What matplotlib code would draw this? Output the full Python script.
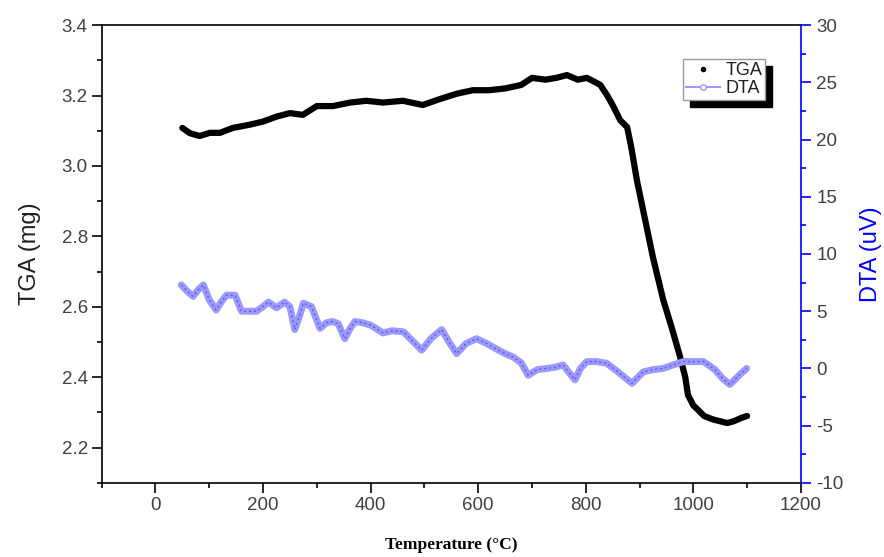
import matplotlib
matplotlib.use("Agg")
import matplotlib.pyplot as plt
from matplotlib.ticker import MultipleLocator, FormatStrFormatter
from matplotlib.lines import Line2D

# ==============================
# DATOS
# ==============================

tga_temp = [50, 64, 82, 101, 120, 144, 175, 200, 225, 250, 274, 300, 330, 362,
            392, 423, 460, 497, 529, 560, 590, 620, 650, 680, 700, 725, 745,
            765, 785, 802, 815, 827, 840, 851, 864, 877, 885, 895, 910, 925,
            944, 960, 975, 985, 990, 1000, 1007, 1020, 1037, 1050, 1063, 1075,
            1090, 1100]
tga_mg = [3.108, 3.093, 3.085, 3.094, 3.094, 3.108, 3.117, 3.126, 3.14, 3.15,
          3.145, 3.17, 3.17, 3.18, 3.185, 3.18, 3.185, 3.173, 3.19, 3.205,
          3.215, 3.215, 3.22, 3.23, 3.25, 3.245, 3.25, 3.258, 3.245, 3.25,
          3.24, 3.23, 3.20, 3.17, 3.13, 3.11, 3.05, 2.96, 2.85, 2.74, 2.62,
          2.54, 2.46, 2.40, 2.35, 2.32, 2.31, 2.29, 2.28, 2.275, 2.27, 2.275,
          2.285, 2.29]

dta_temp = [48, 58, 70, 80, 89, 100, 113, 122, 132, 148, 160, 175, 188, 200,
            210, 225, 240, 250, 259, 268, 275, 290, 306, 318, 330, 340, 352,
            362, 371, 385, 399, 410, 423, 440, 461, 478, 495, 512, 532, 546,
            560, 578, 597, 615, 634, 650, 665, 680, 693, 710, 727, 742, 758,
            768, 780, 790, 802, 820, 839, 860, 886, 907, 925, 944, 962, 982,
            1000, 1019, 1040, 1055, 1068, 1085, 1099]
dta_uv = [7.3, 6.8, 6.3, 6.9, 7.3, 6.0, 5.1, 5.8, 6.4, 6.4, 5.0, 5.0, 5.0, 5.4,
          5.8, 5.3, 5.8, 5.4, 3.4, 4.6, 5.7, 5.4, 3.5, 4.0, 4.1, 3.9, 2.6, 3.5,
          4.1, 4.0, 3.8, 3.5, 3.1, 3.3, 3.2, 2.4, 1.6, 2.6, 3.4, 2.3, 1.3, 2.2,
          2.6, 2.2, 1.7, 1.3, 1.0, 0.5, -0.6, -0.1, 0.0, 0.1, 0.3, -0.3, -1.0,
          0.0, 0.6, 0.6, 0.45, -0.3, -1.3, -0.3, -0.1, 0.0, 0.3, 0.6, 0.6, 0.6,
          -0.1, -0.9, -1.4, -0.6, 0.0]

# ==============================
# FIGURA
# ==============================

plt.rcParams["font.family"] = ["Liberation Sans", "DejaVu Sans"]
plt.rcParams["axes.unicode_minus"] = False

fig = plt.figure(figsize=(8.84, 5.57), dpi=100)
ax = fig.add_axes([0.115, 0.133, 0.791, 0.822])
ax2 = ax.twinx()

tick_color = "#404040"
blue = "#0000ff"

# TGA
ax.plot(tga_temp, tga_mg, color="black", lw=4.5, solid_capstyle="round",
        solid_joinstyle="round", zorder=3)

# DTA
ax2.plot(dta_temp, dta_uv, color="#9b9bff", lw=5, solid_capstyle="round",
         solid_joinstyle="round")
ax2.plot(dta_temp, dta_uv, color="#5a5aff", lw=1.0, ls=(0, (1.5, 2)))

ax.set_xlim(-100, 1200)
ax.set_ylim(2.1, 3.4)
ax2.set_ylim(-10, 30)

ax.xaxis.set_major_locator(MultipleLocator(200))
ax.xaxis.set_minor_locator(MultipleLocator(100))
ax.yaxis.set_major_locator(MultipleLocator(0.2))
ax.yaxis.set_minor_locator(MultipleLocator(0.1))
ax2.yaxis.set_major_locator(MultipleLocator(5))
ax2.yaxis.set_minor_locator(MultipleLocator(2.5))

ax.yaxis.set_major_formatter(FormatStrFormatter("%.1f"))

ax.tick_params(which="major", direction="out", length=7, width=1.2,
               labelsize=13.5, labelcolor=tick_color, pad=3)
ax.tick_params(which="minor", direction="out", length=3.5, width=1.2)
ax2.tick_params(which="major", direction="out", length=7, width=1.2,
                color=blue, labelsize=13.5, labelcolor=tick_color, pad=4)
ax2.tick_params(which="minor", direction="out", length=3.5, width=1.2,
                color=blue)

for s in ["left", "bottom", "top"]:
    ax.spines[s].set_linewidth(1.2)
    ax2.spines[s].set_visible(False)
ax.spines["right"].set_visible(False)
ax2.spines["right"].set_color(blue)
ax2.spines["right"].set_linewidth(1.2)

ax.set_ylabel("TGA (mg)", fontsize=17, color="#202020", labelpad=15)
ax2.set_ylabel("DTA (uV)", fontsize=17, color=blue, labelpad=12)
ax.set_xlabel("Temperature (°C)", fontsize=12.5, fontweight="bold",
              family=["Liberation Serif", "DejaVu Serif"], labelpad=17)

# ==============================
# LEYENDA
# ==============================

handles = [
    Line2D([], [], color="black", marker="o", ms=3, ls="none"),
    Line2D([], [], color="#9b9bff", lw=1.5, marker="o", ms=4,
           mfc="white", mec="#9b9bff"),
]
leg = ax2.legend(handles, ["TGA", "DTA"], loc="upper left",
                 bbox_to_anchor=(0.832, 0.925), fontsize=13, frameon=True,
                 fancybox=False, borderpad=0.15, labelspacing=0.05,
                 handlelength=1.9, handletextpad=0.3, borderaxespad=0,
                 shadow={"ox": 5, "oy": -5, "color": "black", "alpha": 1})
leg.get_frame().set_edgecolor("#999999")
leg.get_frame().set_linewidth(1.0)
for t in leg.get_texts():
    t.set_color("#202020")

fig.savefig("out.png", dpi=100)
